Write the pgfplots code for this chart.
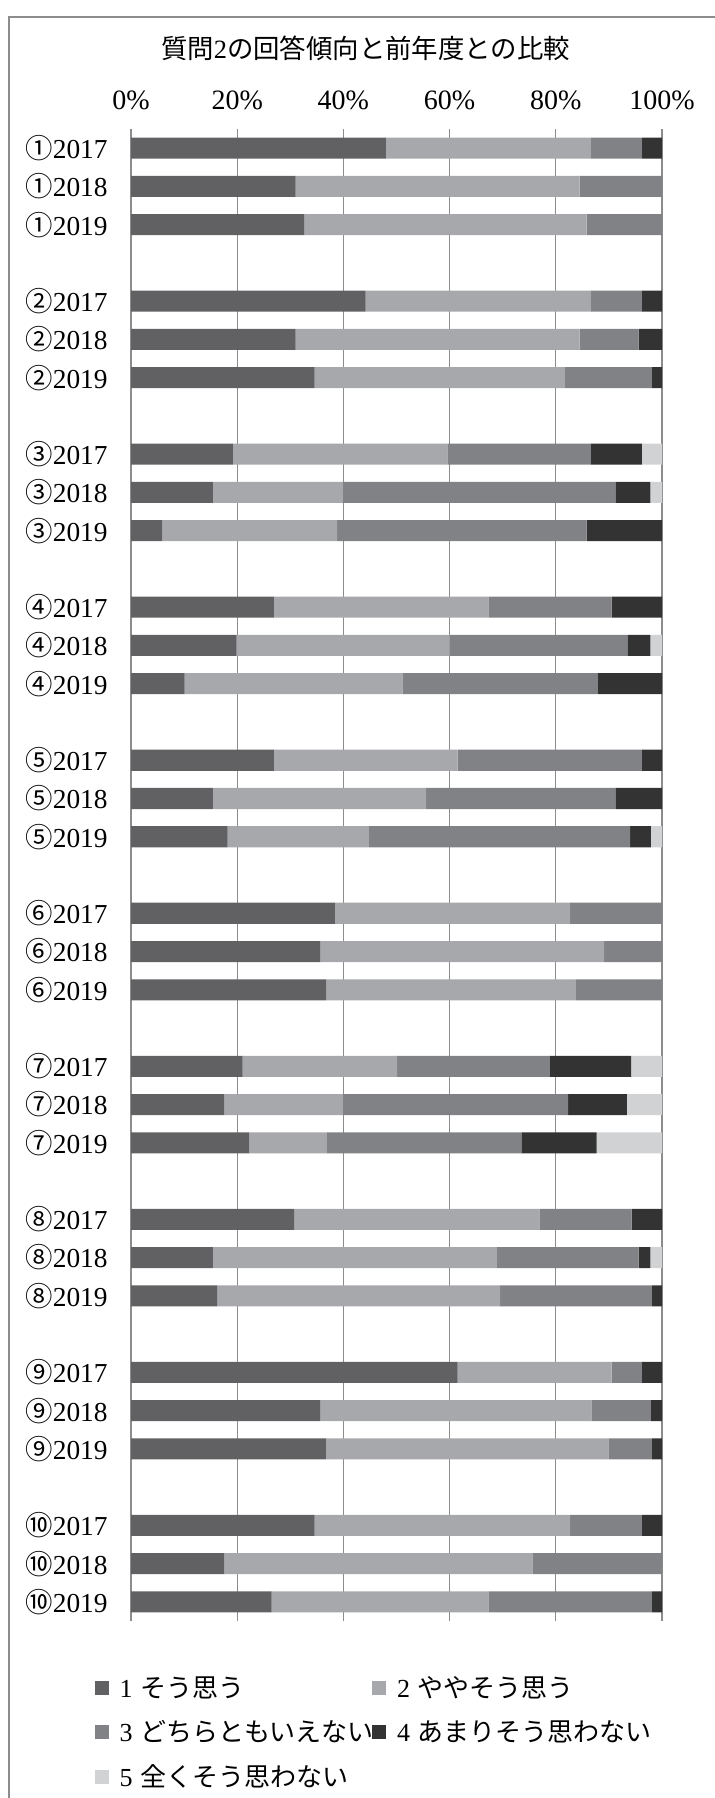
\documentclass[border=0pt]{standalone}
\usepackage{fontspec}
\setmainfont{Liberation Serif}
\newfontfamily\cjk{Noto Sans CJK JP}
\usepackage{pgfplots}
\pgfplotsset{compat=1.18}
\usepackage{pgfplotstable}

\definecolor{c1}{HTML}{616163}
\definecolor{c2}{HTML}{A7A8AB}
\definecolor{c3}{HTML}{818285}
\definecolor{c4}{HTML}{333333}
\definecolor{c5}{HTML}{D1D2D4}
\definecolor{gridgray}{HTML}{8C8C8C}
\definecolor{framegray}{HTML}{8C8C8C}

\pgfplotstableread{
y a b c d e
0 48.0 38.6 9.6 3.8 0
-1 31.0 53.5 15.5 0 0
-2 32.6 53.2 14.2 0 0
-4 44.2 42.4 9.6 3.8 0
-5 31.0 53.5 11.1 4.4 0
-6 34.6 47.1 16.4 1.9 0
-8 19.2 40.4 27.0 9.6 3.8
-9 15.4 24.5 51.3 6.6 2.2
-10 5.9 32.9 47.0 14.2 0
-12 26.9 40.4 23.2 9.5 0
-13 19.9 40.1 33.5 4.3 2.2
-14 10.1 41.0 36.8 12.1 0
-16 26.9 34.6 34.7 3.8 0
-17 15.4 40.2 35.6 8.8 0
-18 18.2 26.6 49.2 3.9 2.1
-20 38.4 44.3 17.3 0 0
-21 35.6 53.5 10.9 0 0
-22 36.8 47.0 16.2 0 0
-24 21.0 29.1 28.8 15.3 5.8
-25 17.6 22.3 42.4 11.1 6.6
-26 22.3 14.6 36.6 14.2 12.3
-28 30.7 46.2 17.4 5.7 0
-29 15.4 53.5 26.7 2.2 2.2
-30 16.2 53.3 28.6 1.9 0
-32 61.5 29.0 5.7 3.8 0
-33 35.6 51.1 11.2 2.1 0
-34 36.7 53.2 8.2 1.9 0
-36 34.6 48.1 13.5 3.8 0
-37 17.6 58.0 24.4 0 0
-38 26.5 40.8 30.8 1.9 0
}\data

\pgfplotsset{sq/.style={fill=#1, draw=none,
  legend image code/.code={\fill[#1] (0pt,-3.5pt) rectangle (7pt,3.5pt);}}}

\begin{document}
\begin{tikzpicture}
\useasboundingbox (0,0) rectangle (357.5pt,-899pt);
\draw[framegray, line width=0.7pt] (4.5pt,-899pt) -- (4.5pt,-8.5pt) -- (357.5pt,-8.5pt);
\node[font=\fontsize{13.2pt}{15pt}\selectfont, inner sep=0pt] at (182.8pt,-24pt)
  {{\cjk 質問}2{\cjk の回答傾向と前年度との比較}};
\begin{axis}[
  at={(65.5pt,-64.5pt)}, anchor=north west,
  scale only axis, width=265.5pt, height=746pt,
  xbar stacked, bar width=0.55,
  xmin=0, xmax=100, ymin=-38.5, ymax=0.5,
  axis line style={draw=none},
  major tick length=0pt,
  xmajorgrids, grid style={gridgray, line width=0.6pt},
  xtick={0,20,40,60,80,100},
  xticklabels={0\%,20\%,40\%,60\%,80\%,100\%},
  xticklabel pos=upper,
  xticklabel style={font=\fontsize{14pt}{16pt}\selectfont, anchor=center, inner sep=0pt, yshift=14.5pt},
  ytick={0,-1,-2,-4,-5,-6,-8,-9,-10,-12,-13,-14,-16,-17,-18,-20,-21,-22,-24,-25,-26,-28,-29,-30,-32,-33,-34,-36,-37,-38},
  yticklabels={{\cjk ①}2017,{\cjk ①}2018,{\cjk ①}2019,
    {\cjk ②}2017,{\cjk ②}2018,{\cjk ②}2019,
    {\cjk ③}2017,{\cjk ③}2018,{\cjk ③}2019,
    {\cjk ④}2017,{\cjk ④}2018,{\cjk ④}2019,
    {\cjk ⑤}2017,{\cjk ⑤}2018,{\cjk ⑤}2019,
    {\cjk ⑥}2017,{\cjk ⑥}2018,{\cjk ⑥}2019,
    {\cjk ⑦}2017,{\cjk ⑦}2018,{\cjk ⑦}2019,
    {\cjk ⑧}2017,{\cjk ⑧}2018,{\cjk ⑧}2019,
    {\cjk ⑨}2017,{\cjk ⑨}2018,{\cjk ⑨}2019,
    {\cjk ⑩}2017,{\cjk ⑩}2018,{\cjk ⑩}2019},
  yticklabel style={font=\fontsize{13.7pt}{16pt}\selectfont, anchor=east, inner sep=0pt, xshift=-11.5pt},
  legend columns=2,
  legend cell align=left,
  legend style={at={(-0.0686,-0.035)}, anchor=north west, draw=none, fill=none,
    inner sep=0pt, outer sep=0pt, row sep=7pt,
    font=\fontsize{13pt}{16pt}\selectfont,
    nodes={inner sep=1.5pt}},
]
\addplot[sq=c1] table[x=a, y=y] {\data};
\addplot[sq=c2] table[x=b, y=y] {\data};
\addplot[sq=c3] table[x=c, y=y] {\data};
\addplot[sq=c4] table[x=d, y=y] {\data};
\addplot[sq=c5] table[x=e, y=y] {\data};
\addlegendentry{\makebox[128.8pt][l]{\hspace*{4pt}1\hspace{0.3em}{\cjk そう思う}}}
\addlegendentry{\hspace*{4pt}2\hspace{0.3em}{\cjk ややそう思う}}
\addlegendentry{\makebox[128.8pt][l]{\hspace*{4pt}3\hspace{0.3em}{\cjk どちらともいえない}}}
\addlegendentry{\hspace*{4pt}4\hspace{0.3em}{\cjk あまりそう思わない}}
\addlegendentry{\makebox[128.8pt][l]{\hspace*{4pt}5\hspace{0.3em}{\cjk 全くそう思わない}}}
\end{axis}
\end{tikzpicture}
\end{document}
